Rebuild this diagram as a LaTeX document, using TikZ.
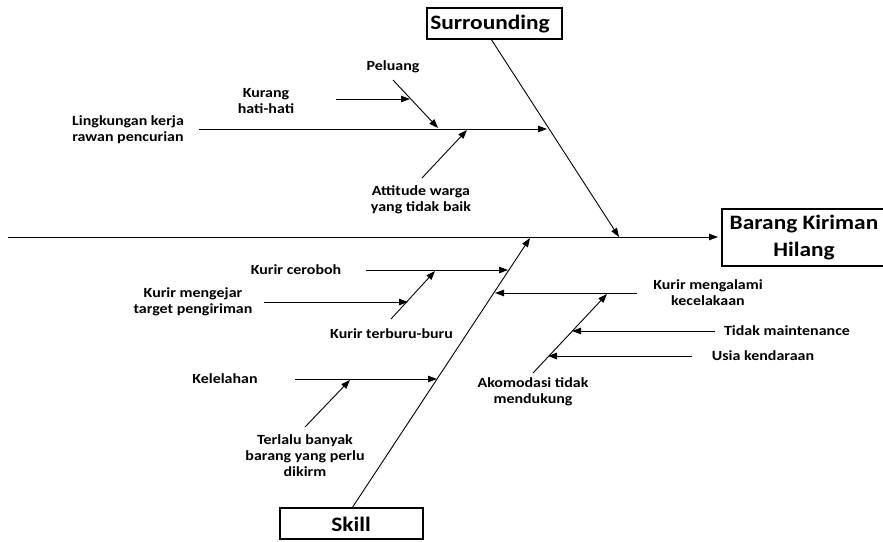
\documentclass[tikz,border=0pt]{standalone}
\usepackage{fontspec}
\setmainfont{Carlito}
\usetikzlibrary{arrows.meta}
\begin{document}
\begin{tikzpicture}[x=1pt,y=-1pt,
  lbl/.style={font=\bfseries\fontsize{14}{16}\selectfont, align=center, inner sep=0pt, xscale=1.14},
  big/.style={font=\bfseries\fontsize{20.5}{27}\selectfont, align=center, inner sep=0pt, xscale=1.14},
  bone/.style={line width=0.9pt, -{Triangle[length=9pt,width=6.5pt]}},
  box/.style={draw, line width=1.2pt}]
\useasboundingbox (0,0) rectangle (883,541);
% boxes
\draw[box] (427,8) rectangle (562,39);
\node[big] (surr) at (490,24) {Surrounding};
\draw[box] (280,508) rectangle (423,539);
\node[big] (skill) at (351,524) {Skill};
\draw[box] (722,209) rectangle (890,266);
\node[big] (effect) at (804,238) {Barang Kiriman\\Hilang};
% coordinates
\coordinate (spS) at (8,237);
\coordinate (spE) at (718,237);
\coordinate (sA) at (491,39);
\coordinate (sB) at (619,237);
\coordinate (kA) at (352,508);
\coordinate (kB) at (530,238);
% spine
\draw[bone] (spS) -- (spE);
\draw[bone] (sA) -- (sB);
\draw[bone] (kA) -- (kB);
% Surrounding branch
\coordinate (lkA) at (199,129);
\coordinate (lkB) at (547,129);
\draw[bone] (lkA) -- (lkB);
\coordinate (pA) at (393,80);
\coordinate (pB) at (438,128);
\draw[bone] (pA) -- (pB);
\coordinate (khA) at (336,99);
\coordinate (khB) at (410,99);
\draw[bone] (khA) -- (khB);
\coordinate (atA) at (422,178);
\coordinate (atB) at (467,130);
\draw[bone] (atA) -- (atB);
\node[lbl] (peluang) at (393,67) {Peluang};
\node[lbl] (kurang) at (266,101) {Kurang\\hati-hati};
\node[lbl, anchor=west] (lingk) at (72,130) {Lingkungan kerja\\rawan pencurian};
\node[lbl] (att) at (421,200) {Attitude warga\\yang tidak baik};
% Skill branch
\coordinate (kcA) at (366,270);
\coordinate (kcB) at (508,270);
\draw[bone] (kcA) -- (kcB);
\coordinate (ktA) at (391,319);
\coordinate (ktB) at (435,271);
\draw[bone] (ktA) -- (ktB);
\coordinate (kmA) at (264,302);
\coordinate (kmB) at (408,302);
\draw[bone] (kmA) -- (kmB);
\coordinate (klA) at (295,379);
\coordinate (klB) at (437,379);
\draw[bone] (klA) -- (klB);
\coordinate (tbA) at (305,427);
\coordinate (tbB) at (350,380);
\draw[bone] (tbA) -- (tbB);
\node[lbl] (ceroboh) at (296,270) {Kurir ceroboh};
\node[lbl] (mengejar) at (193,302) {Kurir mengejar\\target pengiriman};
\node[lbl, anchor=west] (terburu) at (330,334) {Kurir terburu-buru};
\node[lbl] (lelah) at (225,379) {Kelelahan};
\node[lbl] (banyak) at (305,456) {Terlalu banyak\\barang yang perlu\\dikirm};
% Akomodasi branch
\coordinate (mgA) at (637,293);
\coordinate (mgB) at (495,293);
\draw[bone] (mgA) -- (mgB);
\coordinate (akA) at (533,373);
\coordinate (akB) at (607,294);
\draw[bone] (akA) -- (akB);
\coordinate (tmA) at (715,331);
\coordinate (tmB) at (572,331);
\draw[bone] (tmA) -- (tmB);
\coordinate (ukA) at (692,356);
\coordinate (ukB) at (548,356);
\draw[bone] (ukA) -- (ukB);
\node[lbl] (kecel) at (708,293) {Kurir mengalami\\kecelakaan};
\node[lbl] (maint) at (787,331) {Tidak maintenance};
\node[lbl] (usia) at (763,356) {Usia kendaraan};
\node[lbl] (akom) at (533,392) {Akomodasi tidak\\mendukung};
\end{tikzpicture}
\end{document}
